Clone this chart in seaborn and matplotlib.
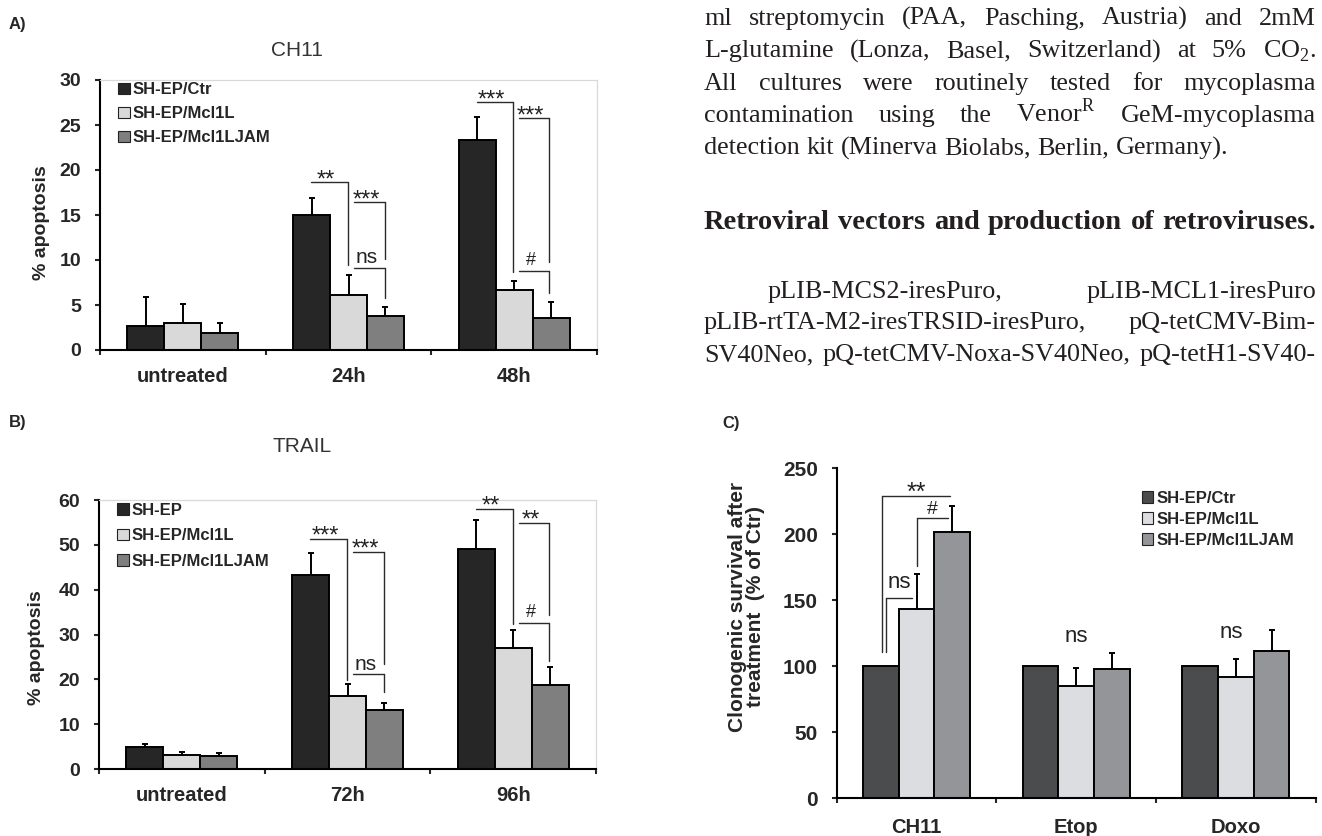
import numpy as np
import pandas as pd
import seaborn as sns
import matplotlib.pyplot as plt
from matplotlib.patches import Patch

sns.set_style('ticks')
plt.rcParams['font.family'] = ['Liberation Sans', 'DejaVu Sans']
plt.rcParams['mathtext.fontset'] = 'custom'
plt.rcParams['mathtext.rm'] = 'Liberation Serif'

# ---- data ----
a_groups = ['untreated', '24h', '48h']
a_lines = ['SH-EP/Ctr', 'SH-EP/Mcl1L', 'SH-EP/Mcl1LJAM']
a_ctr = [2.7, 15.0, 23.3]
a_ctr_sd = [3.2, 1.85, 2.55]
a_mcl = [3.0, 6.1, 6.7]
a_mcl_sd = [2.1, 2.2, 1.0]
a_jam = [1.9, 3.8, 3.6]
a_jam_sd = [1.05, 1.0, 1.7]

b_groups = ['untreated', '72h', '96h']
b_lines = ['SH-EP', 'SH-EP/Mcl1L', 'SH-EP/Mcl1LJAM']
b_ctr = [4.85, 43.3, 49.0]
b_ctr_sd = [0.75, 4.8, 6.5]
b_mcl = [3.1, 16.3, 27.1]
b_mcl_sd = [0.8, 2.6, 3.8]
b_jam = [2.9, 13.2, 18.7]
b_jam_sd = [0.7, 1.6, 4.0]

c_groups = ['CH11', 'Etop', 'Doxo']
c_lines = ['SH-EP/Ctr', 'SH-EP/Mcl1L', 'SH-EP/Mcl1LJAM']
c_ctr = [100, 100, 100]
c_ctr_sd = [0, 0, 0]
c_mcl = [143.6, 85.3, 92.1]
c_mcl_sd = [26.3, 13.2, 13.4]
c_jam = [201.5, 98.2, 111.8]
c_jam_sd = [19.9, 12.1, 15.7]

# significance brackets: x1, x2, y, end of vertical, label
a_sig = [(0.772, 0.995, 18.7, 9.4, '**'), (1.033, 1.22, 16.5, 10.1, '***'),
         (1.033, 1.22, 9.15, 5.74, 'ns'), (1.774, 1.991, 27.6, 8.67, '***'),
         (2.027, 2.21, 25.8, 9.8, '***'), (2.027, 2.21, 8.8, 6.3, '#')]
b_sig = [(0.772, 0.995, 51.3, 19.85, '***'), (1.033, 1.22, 48.5, 23.4, '***'),
         (1.033, 1.22, 21.2, 17.25, 'ns'), (1.775, 1.997, 57.9, 32.3, '**'),
         (2.033, 2.216, 54.9, 34.35, '**'), (2.033, 2.216, 32.5, 24.2, '#')]
c_sig = [(-0.215, 0.208, 229, 111, '**'), (0.0, 0.194, 212.6, 176.2, '#'),
         (-0.192, -0.028, 151.5, 111, 'ns')]
c_ns = [(1.0, 118.6), (1.97, 121.2)]

ab_colors = ['#262626', '#d9d9d9', '#7f7f7f']
c_colors = ['#4b4c4e', '#dcdde0', '#939598']

W, H = 1322, 836
fig = plt.figure(figsize=(W / 100, H / 100), dpi=100)


def px_axes(left, top, right, bottom):
    return fig.add_axes([left / W, 1 - bottom / H, (right - left) / W, (bottom - top) / H])


def bars(ax, groups, names, means, sds, colors, ymax, step, fs_tick, xpad):
    rows = []
    for name, vals in zip(names, means):
        for g, v in zip(groups, vals):
            rows.append((g, name, v))
    df = pd.DataFrame(rows, columns=['group', 'line', 'value'])
    sns.barplot(df, x='group', y='value', hue='line', order=groups, hue_order=names,
                palette=colors, saturation=1, width=0.67, edgecolor='black',
                linewidth=1.4, errorbar=None, legend=False, ax=ax, zorder=2)
    for cont, sd in zip(ax.containers, sds):
        for bar, e in zip(cont, sd):
            if e > 0:
                ax.errorbar(bar.get_x() + bar.get_width() / 2, bar.get_height(),
                            yerr=[[0], [e]], fmt='none', ecolor='black',
                            elinewidth=1.4, capsize=2, capthick=1.4, zorder=3)
    ax.set_xlim(-0.5, 2.5)
    ax.set_ylim(0, ymax)
    ax.set_yticks(range(0, ymax + 1, step))
    ax.set_xticks([0, 1, 2], groups)
    ax.set_xticks([-0.5, 0.5, 1.5, 2.5], minor=True)
    ax.tick_params(axis='x', which='major', length=0, pad=xpad, labelsize=14.5)
    ax.tick_params(axis='x', which='minor', length=3.6, width=1.5, direction='out')
    ax.tick_params(axis='y', length=3.6, width=1.5, pad=10, labelsize=fs_tick)
    for lab in ax.get_xticklabels() + ax.get_yticklabels():
        lab.set_fontweight('bold')
    ax.set_xlabel('')
    for s in ['left', 'bottom']:
        ax.spines[s].set_linewidth(1.5)
        ax.spines[s].set_color('black')


def sig(ax, spec, side, sizes, offs, shift):
    for x1, x2, y, y_end, lab in spec:
        xv = x2 if side == 'right' else x1
        ax.plot([x1, x2], [y, y], color='#2b2b2b', lw=1.0, zorder=4, clip_on=False)
        ax.plot([xv, xv], [y, y_end], color='#2b2b2b', lw=1.0, zorder=4, clip_on=False)
        kind = 'star' if '*' in lab else lab
        ax.annotate(lab, xy=((x1 + x2) / 2 + shift, y), xytext=(0, offs[kind]),
                    textcoords='offset points', ha='center', va='baseline',
                    fontsize=sizes[kind], color='#222222', annotation_clip=False)


def legend(ax, names, colors, x, y, spacing):
    handles = [Patch(facecolor=c, edgecolor='#222222', lw=0.8) for c in colors]
    ax.legend(handles, names, loc='upper left', bbox_to_anchor=(x, y), frameon=False,
              borderpad=0, borderaxespad=0, handlelength=0.7, handleheight=0.7,
              handletextpad=0.2, labelspacing=spacing,
              prop={'weight': 'bold', 'size': 12})


# ---- panel A ----
ax_a = px_axes(100, 80, 597, 350)
bars(ax_a, a_groups, a_lines, [a_ctr, a_mcl, a_jam], [a_ctr_sd, a_mcl_sd, a_jam_sd],
     ab_colors, 30, 5, 14, 12)
sig(ax_a, a_sig, 'right', {'star': 17, 'ns': 15, '#': 13}, {'star': -3.6, 'ns': 3.2, '#': 4.3}, -0.02)
legend(ax_a, a_lines, ab_colors, 0.036, 0.991, 0.54)
ax_a.set_ylabel('% apoptosis', fontsize=14, fontweight='bold')
ax_a.yaxis.set_label_coords(-0.10, 0.47)

# ---- panel B ----
ax_b = px_axes(99, 500, 596, 769)
bars(ax_b, b_groups, b_lines, [b_ctr, b_mcl, b_jam], [b_ctr_sd, b_mcl_sd, b_jam_sd],
     ab_colors, 60, 10, 14, 12)
sig(ax_b, b_sig, 'right', {'star': 17, 'ns': 15, '#': 13}, {'star': -2.6, 'ns': 3.2, '#': 4.3}, -0.02)
legend(ax_b, b_lines, ab_colors, 0.036, 0.99, 0.63)
ax_b.set_ylabel('% apoptosis', fontsize=14, fontweight='bold')
ax_b.yaxis.set_label_coords(-0.109, 0.45)

for ax in (ax_a, ax_b):
    for s in ['top', 'right']:
        ax.spines[s].set_color('#d9d9d9')
        ax.spines[s].set_linewidth(0.9)

# ---- panel C ----
ax_c = px_axes(836.7, 468.3, 1315.7, 798.3)
bars(ax_c, c_groups, c_lines, [c_ctr, c_mcl, c_jam], [c_ctr_sd, c_mcl_sd, c_jam_sd],
     c_colors, 250, 50, 15, 14)
sig(ax_c, c_sig, 'left', {'star': 18, 'ns': 16, '#': 14}, {'star': -2.5, 'ns': 7.2, '#': 2.5}, 0.0)
for x, y in c_ns:
    ax_c.text(x, y, 'ns', ha='center', va='baseline', fontsize=16, color='#222222')
legend(ax_c, c_lines, c_colors, 0.637, 0.931, 0.36)
ax_c.set_ylabel('Clonogenic survival after\ntreatment  (% of Ctr)', fontsize=15,
                fontweight='bold', linespacing=0.95)
ax_c.yaxis.set_label_coords(-0.15, 0.58)
ax_c.spines['top'].set_visible(False)
ax_c.spines['right'].set_visible(False)

# ---- panel labels and titles ----
for lab, x, y in [('A)', 9, 29), ('B)', 9, 427), ('C)', 722, 428)]:
    fig.text(x / W, 1 - y / H, lab, fontsize=12, fontweight='bold', va='baseline')
fig.text(297 / W, 1 - 55.5 / H, 'CH11', fontsize=15, ha='center', va='baseline', color='#333333')
fig.text(302 / W, 1 - 452.5 / H, 'TRAIL', fontsize=15, ha='center', va='baseline', color='#333333')

# ---- justified body text on the right ----
renderer = fig.canvas.get_renderer()
body = [
    ('ml streptomycin (PAA, Pasching, Austria) and 2mM', 704, 25, 'normal', 18.8, True),
    ('L-glutamine (Lonza, Basel, Switzerland) at 5% CO$_2$.', 704, 57.3, 'normal', 18.8, True),
    ('All cultures were routinely tested for mycoplasma', 704, 89.6, 'normal', 18.8, True),
    ('contamination using the Venor$^{\\mathrm{R}}$ GeM-mycoplasma', 704, 121.9, 'normal', 18.8, True),
    ('detection kit (Minerva Biolabs, Berlin, Germany).', 704, 154.2, 'normal', 18.8, False),
    ('Retroviral vectors and production of retroviruses.', 704, 229, 'bold', 20.5, True),
    ('pLIB-MCS2-iresPuro, pLIB-MCL1-iresPuro', 768, 298, 'normal', 18.8, True),
    ('pLIB-rtTA-M2-iresTRSID-iresPuro, pQ-tetCMV-Bim-', 704, 329.5, 'normal', 18.8, True),
    ('SV40Neo, pQ-tetCMV-Noxa-SV40Neo, pQ-tetH1-SV40-', 704, 361, 'normal', 18.8, True),
]
x_right = 1316
for line, x0, base, weight, size, just in body:
    words = line.split(' ')
    objs = [fig.text(0, 1 - base / H, w, fontsize=size, fontweight=weight,
                     family=['Liberation Serif', 'DejaVu Serif'], va='baseline',
                     ha='left', color='#231f20') for w in words]
    widths = [o.get_window_extent(renderer).width for o in objs]
    gap = (x_right - x0 - sum(widths)) / (len(words) - 1) if just else size * 0.25 * 100 / 72
    x = x0
    for o, w in zip(objs, widths):
        o.set_x(x / W)
        x += w + gap

fig.savefig('out.png', dpi=100)
